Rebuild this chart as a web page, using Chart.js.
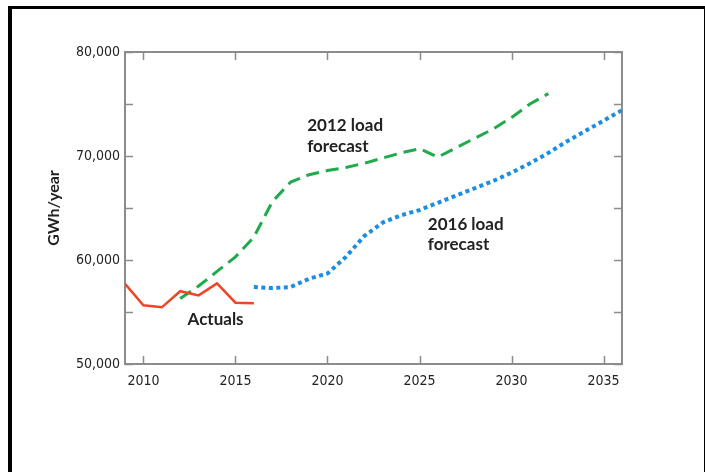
<!DOCTYPE html>
<html>
<head>
<meta charset="utf-8">
<script src="https://cdn.jsdelivr.net/npm/chart.js@4.4.1/dist/chart.umd.min.js"></script>
<style>
    html, body { margin: 0; padding: 0; background: #fff; }
    #wrap { position: relative; width: 705px; height: 472px; overflow: hidden; }
    #frame {
        position: absolute; left: 8px; top: 6px; width: 692px; height: 480px;
        border-left: 4px solid #000; border-top: 3px solid #000; border-right: 3px solid #000;
        pointer-events: none;
    }
    canvas { position: absolute; left: 0; top: 0; }
</style>
</head>
<body>
<div id="wrap">
    <canvas id="load-chart" width="705" height="472"></canvas>
    <div id="frame"></div>
</div>
<script>
// Load forecast chart - GWh/year

// Data
const actualYears = [2009, 2010, 2011, 2012, 2013, 2014, 2015, 2016];
const actualValues = [57700, 55650, 55450, 57000, 56600, 57750, 55900, 55850];

const forecast2012Years = [2012, 2013, 2014, 2015, 2016, 2017, 2018, 2019, 2020, 2021, 2022,
    2023, 2024, 2025, 2026, 2027, 2028, 2029, 2030, 2031, 2032];
const forecast2012Values = [56300, 57500, 58900, 60300, 62200, 65600, 67500, 68200, 68600, 68900, 69300,
    69800, 70300, 70700, 69900, 70800, 71700, 72600, 73700, 75000, 76000];

const forecast2016Years = [2016, 2017, 2018, 2019, 2020, 2021, 2022, 2023, 2024, 2025, 2026,
    2027, 2028, 2029, 2030, 2031, 2032, 2033, 2034, 2035, 2036];
const forecast2016Values = [57400, 57300, 57400, 58200, 58700, 60300, 62300, 63600, 64300, 64800, 65500,
    66200, 66900, 67600, 68400, 69300, 70300, 71400, 72400, 73400, 74400];

// Axes
const xTicks = [2010, 2015, 2020, 2025, 2030, 2035];
const yTicks = [50000, 60000, 70000, 80000];
const yMinorTicks = [55000, 65000, 75000];

// Text labels on the plot (year, value at baseline)
const lineLabels = [
    { lines: ["2012 load", "forecast"], x: 2018.9, y: [72450, 70400] },
    { lines: ["2016 load", "forecast"], x: 2025.45, y: [62900, 60950] },
    { lines: ["Actuals"], x: 2012.4, y: [53750] },
];

const toPoints = (xs, ys) => xs.map((x, i) => ({ x: x, y: ys[i] }));

const AXIS_GREY = "#8c8c8c";
const TEXT = "#222";

// Frame, inward ticks and plot labels
const framePlugin = {
    id: "frame",
    beforeDatasetsDraw(chart) {
        const { ctx, chartArea: a, scales } = chart;
        const tl = 8;
        ctx.save();
        ctx.strokeStyle = AXIS_GREY;
        ctx.lineWidth = 1.5;
        ctx.beginPath();
        xTicks.forEach((v) => {
            const px = Math.round(scales.x.getPixelForValue(v)) + 0.5;
            ctx.moveTo(px, a.top); ctx.lineTo(px, a.top + tl);
            ctx.moveTo(px, a.bottom); ctx.lineTo(px, a.bottom - tl);
        });
        yTicks.concat(yMinorTicks).forEach((v) => {
            const py = Math.round(scales.y.getPixelForValue(v)) + 0.5;
            ctx.moveTo(a.left, py); ctx.lineTo(a.left + tl, py);
            ctx.moveTo(a.right, py); ctx.lineTo(a.right - tl, py);
        });
        ctx.stroke();
        ctx.lineWidth = 2;
        ctx.strokeRect(a.left, a.top, a.right - a.left, a.bottom - a.top);
        ctx.restore();
    },
    afterDatasetsDraw(chart) {
        const { ctx, scales } = chart;
        ctx.save();
        ctx.fillStyle = TEXT;
        ctx.font = "bold 17px Lato, 'Open Sans', sans-serif";
        ctx.textAlign = "left";
        ctx.textBaseline = "alphabetic";
        lineLabels.forEach((lbl) => {
            const px = scales.x.getPixelForValue(lbl.x);
            lbl.lines.forEach((t, i) => {
                ctx.fillText(t, px, scales.y.getPixelForValue(lbl.y[i]));
            });
        });
        ctx.restore();
    },
};

const tickFont = { family: "'Liberation Sans Narrow', 'DejaVu Sans Condensed', sans-serif", size: 14 };

new Chart(document.getElementById("load-chart").getContext("2d"), {
    type: "line",
    data: {
        datasets: [
            {
                label: "Actuals",
                data: toPoints(actualYears, actualValues),
                borderColor: "#ef4526",
                borderWidth: 2.5,
                pointRadius: 0,
                tension: 0,
            },
            {
                label: "2012 load forecast",
                data: toPoints(forecast2012Years, forecast2012Values),
                borderColor: "#1faa4b",
                borderWidth: 3,
                borderDash: [13, 7],
                pointRadius: 0,
                tension: 0,
            },
            {
                label: "2016 load forecast",
                data: toPoints(forecast2016Years, forecast2016Values),
                borderColor: "#1a8ee0",
                borderWidth: 4,
                borderDash: [4, 3.5],
                pointRadius: 0,
                tension: 0,
            },
        ],
    },
    options: {
        responsive: false,
        animation: false,
        devicePixelRatio: 1,
        layout: { padding: { left: 44, top: 52, right: 83, bottom: 0 } },
        plugins: { legend: { display: false }, tooltip: { enabled: false } },
        scales: {
            x: {
                type: "linear",
                min: 2009,
                max: 2036,
                grid: { display: false, drawTicks: false },
                border: { display: false },
                afterBuildTicks: (scale) => { scale.ticks = xTicks.map((v) => ({ value: v })); },
                afterFit: (scale) => { scale.height = 108; },
                ticks: {
                    padding: 9,
                    color: TEXT,
                    font: tickFont,
                    maxRotation: 0,
                    autoSkip: false,
                    callback: (v) => String(v),
                },
            },
            y: {
                type: "linear",
                min: 50000,
                max: 80000,
                grid: { display: false, drawTicks: false },
                border: { display: false },
                afterBuildTicks: (scale) => { scale.ticks = yTicks.map((v) => ({ value: v })); },
                afterFit: (scale) => { scale.width = 81; },
                title: {
                    display: true,
                    text: "GWh/year",
                    color: TEXT,
                    font: { family: "Lato, 'Open Sans', sans-serif", size: 16, weight: "bold" },
                    padding: 0,
                },
                ticks: {
                    padding: 5,
                    color: TEXT,
                    font: tickFont,
                    callback: (v) => v.toLocaleString("en-US"),
                },
            },
        },
    },
    plugins: [framePlugin],
});
</script>
</body>
</html>
